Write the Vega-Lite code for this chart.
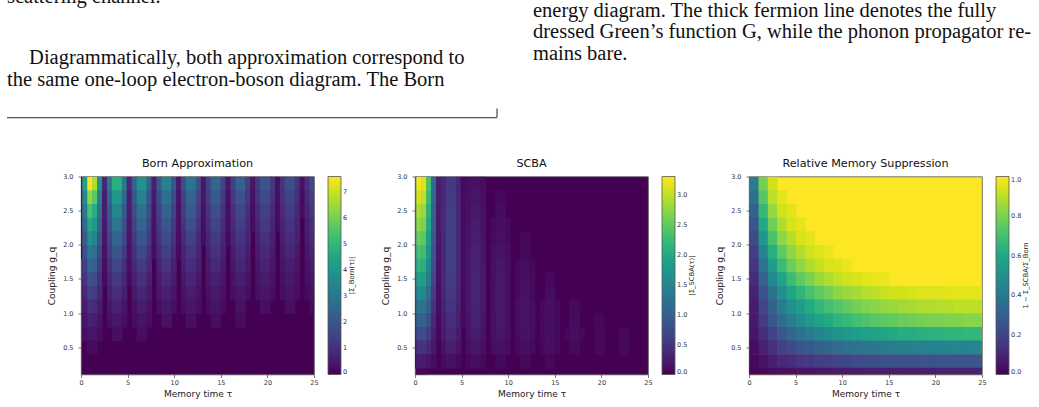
{
"$schema":"https://vega.github.io/schema/vega-lite/v6.json",
"background":"white",
"padding":0,
"bounds":"flush",
"spacing":46.5,
"config":{
 "font":"DejaVu Sans",
 "view":{"stroke":"#555","strokeWidth":0.8},
 "axis":{"grid":false,"domain":false,"ticks":true,"tickSize":3,"tickColor":"#444","tickWidth":0.7,"labelFontSize":6.5,"labelColor":"#333","labelFont":"DejaVu Sans","titleFontSize":9,"titleFontWeight":"normal","titleColor":"#222","titleFont":"DejaVu Sans","labelFlush":false},
 "axisX":{"labelPadding":1.5,"titlePadding":4},
 "axisY":{"labelPadding":5,"titlePadding":6},
 "title":{"fontSize":11.2,"fontWeight":"normal","font":"DejaVu Sans","color":"#111","offset":4},
 "legend":{"padding":0,"offset":14,"gradientLength":198,"gradientThickness":13,"gradientStrokeColor":"#555","gradientStrokeWidth":0.8,"labelFontSize":6.5,"labelColor":"#333","labelOffset":4,"labelFont":"DejaVu Sans","titleFontSize":6.8,"titleFontWeight":"normal","titleColor":"#222","titleFont":"DejaVu Sans","titleOrient":"right","titleAnchor":"middle","titleBaseline":"top","titlePadding":2}
},
"datasets":{
"text":[
{"col":0,"line":-0.63,"s":"scattering channel."},
{"col":0.042,"line":2.23,"s":"Diagrammatically, both approximation correspond to"},
{"col":0,"line":3.23,"s":"the same one-loop electron-boson diagram.  The Born"},
{"col":1,"line":0,"s":"energy diagram.  The thick fermion line denotes the fully"},
{"col":1,"line":1,"s":"dressed Green’s function G, while the phonon propagator re-"},
{"col":1,"line":2,"s":"mains bare."}
],
"rule":[
{"x0":0,"x1":0.9316,"y0":4.7,"y1":4.7},
{"x0":0.9316,"x1":0.9316,"y0":4.28,"y1":4.7}
],
"born":[
{"t":-0.15,"g":2.9,"v":0.5},{"t":0.38,"g":2.9,"v":4.3},{"t":0.91,"g":2.9,"v":7.5},{"t":1.44,"g":2.9,"v":6.7},{"t":1.97,"g":2.9,"v":3.8},{"t":2.5,"g":2.9,"v":0.8},{"t":3.03,"g":2.9,"v":3.0},{"t":3.56,"g":2.9,"v":4.8},{"t":4.09,"g":2.9,"v":4.8},{"t":4.62,"g":2.9,"v":3.0},{"t":5.15,"g":2.9,"v":0.8},{"t":5.68,"g":2.9,"v":2.4},{"t":6.21,"g":2.9,"v":3.9},{"t":6.74,"g":2.9,"v":3.9},{"t":7.27,"g":2.9,"v":2.4},{"t":7.8,"g":2.9,"v":0.6},{"t":8.33,"g":2.9,"v":2.0},{"t":8.86,"g":2.9,"v":3.4},{"t":9.39,"g":2.9,"v":3.4},{"t":9.92,"g":2.9,"v":2.0},{"t":10.45,"g":2.9,"v":0.5},{"t":10.98,"g":2.9,"v":1.8},{"t":11.51,"g":2.9,"v":2.9},{"t":12.04,"g":2.9,"v":2.9},{"t":12.57,"g":2.9,"v":1.8},{"t":13.1,"g":2.9,"v":0.4},{"t":13.63,"g":2.9,"v":1.5},{"t":14.16,"g":2.9,"v":2.5},{"t":14.69,"g":2.9,"v":2.5},{"t":15.22,"g":2.9,"v":1.5},{"t":15.75,"g":2.9,"v":0.4},{"t":16.28,"g":2.9,"v":1.4},{"t":16.81,"g":2.9,"v":2.3},{"t":17.34,"g":2.9,"v":2.3},{"t":17.87,"g":2.9,"v":1.4},{"t":18.4,"g":2.9,"v":0.4},{"t":18.93,"g":2.9,"v":1.2},{"t":19.46,"g":2.9,"v":2.0},{"t":19.99,"g":2.9,"v":2.0},{"t":20.52,"g":2.9,"v":1.2},{"t":21.05,"g":2.9,"v":0.3},{"t":21.58,"g":2.9,"v":1.1},{"t":22.11,"g":2.9,"v":1.8},{"t":22.64,"g":2.9,"v":1.8},{"t":23.17,"g":2.9,"v":1.1},{"t":23.7,"g":2.9,"v":0.3},{"t":24.23,"g":2.9,"v":1.0},{"t":24.76,"g":2.9,"v":1.7},
{"t":-0.15,"g":2.7,"v":0.4},{"t":0.38,"g":2.7,"v":3.6},{"t":0.91,"g":2.7,"v":6.3},{"t":1.44,"g":2.7,"v":5.7},{"t":1.97,"g":2.7,"v":3.2},{"t":2.5,"g":2.7,"v":0.6},{"t":3.03,"g":2.7,"v":2.5},{"t":3.56,"g":2.7,"v":4.1},{"t":4.09,"g":2.7,"v":4.1},{"t":4.62,"g":2.7,"v":2.5},{"t":5.15,"g":2.7,"v":0.6},{"t":5.68,"g":2.7,"v":2.0},{"t":6.21,"g":2.7,"v":3.3},{"t":6.74,"g":2.7,"v":3.3},{"t":7.27,"g":2.7,"v":2.0},{"t":7.8,"g":2.7,"v":0.5},{"t":8.33,"g":2.7,"v":1.7},{"t":8.86,"g":2.7,"v":2.8},{"t":9.39,"g":2.7,"v":2.8},{"t":9.92,"g":2.7,"v":1.7},{"t":10.45,"g":2.7,"v":0.4},{"t":10.98,"g":2.7,"v":1.5},{"t":11.51,"g":2.7,"v":2.4},{"t":12.04,"g":2.7,"v":2.4},{"t":12.57,"g":2.7,"v":1.5},{"t":13.1,"g":2.7,"v":0.4},{"t":13.63,"g":2.7,"v":1.3},{"t":14.16,"g":2.7,"v":2.1},{"t":14.69,"g":2.7,"v":2.1},{"t":15.22,"g":2.7,"v":1.3},{"t":15.75,"g":2.7,"v":0.3},{"t":16.28,"g":2.7,"v":1.2},{"t":16.81,"g":2.7,"v":1.9},{"t":17.34,"g":2.7,"v":1.9},{"t":17.87,"g":2.7,"v":1.2},{"t":18.4,"g":2.7,"v":0.3},{"t":18.93,"g":2.7,"v":1.1},{"t":19.46,"g":2.7,"v":1.7},{"t":19.99,"g":2.7,"v":1.7},{"t":20.52,"g":2.7,"v":1.1},{"t":21.05,"g":2.7,"v":0.3},{"t":21.58,"g":2.7,"v":1.0},{"t":22.11,"g":2.7,"v":1.5},{"t":22.64,"g":2.7,"v":1.5},{"t":23.17,"g":2.7,"v":1.0},{"t":23.7,"g":2.7,"v":0.2},{"t":24.23,"g":2.7,"v":0.9},{"t":24.76,"g":2.7,"v":1.4},
{"t":-0.15,"g":2.5,"v":0.35},{"t":0.38,"g":2.5,"v":3.1},{"t":0.91,"g":2.5,"v":5.4},{"t":1.44,"g":2.5,"v":4.8},{"t":1.97,"g":2.5,"v":2.8},{"t":2.5,"g":2.5,"v":0.55},{"t":3.03,"g":2.5,"v":2.1},{"t":3.56,"g":2.5,"v":3.45},{"t":4.09,"g":2.5,"v":3.45},{"t":4.62,"g":2.5,"v":2.1},{"t":5.15,"g":2.5,"v":0.55},{"t":5.68,"g":2.5,"v":1.7},{"t":6.21,"g":2.5,"v":2.8},{"t":6.74,"g":2.5,"v":2.8},{"t":7.27,"g":2.5,"v":1.7},{"t":7.8,"g":2.5,"v":0.4},{"t":8.33,"g":2.5,"v":1.45},{"t":8.86,"g":2.5,"v":2.4},{"t":9.39,"g":2.5,"v":2.4},{"t":9.92,"g":2.5,"v":1.45},{"t":10.45,"g":2.5,"v":0.35},{"t":10.98,"g":2.5,"v":1.3},{"t":11.51,"g":2.5,"v":2.1},{"t":12.04,"g":2.5,"v":2.1},{"t":12.57,"g":2.5,"v":1.3},{"t":13.1,"g":2.5,"v":0.32},{"t":13.63,"g":2.5,"v":1.1},{"t":14.16,"g":2.5,"v":1.8},{"t":14.69,"g":2.5,"v":1.8},{"t":15.22,"g":2.5,"v":1.1},{"t":15.75,"g":2.5,"v":0.28},{"t":16.28,"g":2.5,"v":1.0},{"t":16.81,"g":2.5,"v":1.6},{"t":17.34,"g":2.5,"v":1.6},{"t":17.87,"g":2.5,"v":1.0},{"t":18.4,"g":2.5,"v":0.26},{"t":18.93,"g":2.5,"v":0.9},{"t":19.46,"g":2.5,"v":1.45},{"t":19.99,"g":2.5,"v":1.45},{"t":20.52,"g":2.5,"v":0.9},{"t":21.05,"g":2.5,"v":0.23},{"t":21.58,"g":2.5,"v":0.83},{"t":22.11,"g":2.5,"v":1.3},{"t":22.64,"g":2.5,"v":1.3},{"t":23.17,"g":2.5,"v":0.83},{"t":23.7,"g":2.5,"v":0.21},{"t":24.23,"g":2.5,"v":0.74},{"t":24.76,"g":2.5,"v":1.2},
{"t":-0.15,"g":2.3,"v":0.3},{"t":0.38,"g":2.3,"v":2.65},{"t":0.91,"g":2.3,"v":4.6},{"t":1.44,"g":2.3,"v":4.1},{"t":1.97,"g":2.3,"v":2.4},{"t":2.5,"g":2.3,"v":0.47},{"t":3.03,"g":2.3,"v":1.8},{"t":3.56,"g":2.3,"v":2.95},{"t":4.09,"g":2.3,"v":2.95},{"t":4.62,"g":2.3,"v":1.8},{"t":5.15,"g":2.3,"v":0.47},{"t":5.68,"g":2.3,"v":1.5},{"t":6.21,"g":2.3,"v":2.4},{"t":6.74,"g":2.3,"v":2.4},{"t":7.27,"g":2.3,"v":1.5},{"t":7.8,"g":2.3,"v":0.35},{"t":8.33,"g":2.3,"v":1.25},{"t":8.86,"g":2.3,"v":2.05},{"t":9.39,"g":2.3,"v":2.05},{"t":9.92,"g":2.3,"v":1.25},{"t":10.45,"g":2.3,"v":0.3},{"t":10.98,"g":2.3,"v":1.1},{"t":11.51,"g":2.3,"v":1.77},{"t":12.04,"g":2.3,"v":1.77},{"t":12.57,"g":2.3,"v":1.1},{"t":13.1,"g":2.3,"v":0.28},{"t":13.63,"g":2.3,"v":0.94},{"t":14.16,"g":2.3,"v":1.53},{"t":14.69,"g":2.3,"v":1.53},{"t":15.22,"g":2.3,"v":0.94},{"t":15.75,"g":2.3,"v":0.24},{"t":16.28,"g":2.3,"v":0.86},{"t":16.81,"g":2.3,"v":1.39},{"t":17.34,"g":2.3,"v":1.39},{"t":17.87,"g":2.3,"v":0.86},{"t":18.4,"g":2.3,"v":0.22},{"t":18.93,"g":2.3,"v":0.77},{"t":19.46,"g":2.3,"v":1.24},{"t":19.99,"g":2.3,"v":1.24},{"t":20.52,"g":2.3,"v":0.77},{"t":21.05,"g":2.3,"v":0.2},{"t":21.58,"g":2.3,"v":0.71},{"t":22.11,"g":2.3,"v":1.12},{"t":22.64,"g":2.3,"v":1.12},{"t":23.17,"g":2.3,"v":0.71},{"t":24.23,"g":2.3,"v":0.63},{"t":24.76,"g":2.3,"v":1.02},
{"t":-0.15,"g":2.1,"v":0.25},{"t":0.38,"g":2.1,"v":2.2},{"t":0.91,"g":2.1,"v":3.8},{"t":1.44,"g":2.1,"v":3.4},{"t":1.97,"g":2.1,"v":1.96},{"t":2.5,"g":2.1,"v":0.39},{"t":3.03,"g":2.1,"v":1.52},{"t":3.56,"g":2.1,"v":2.45},{"t":4.09,"g":2.1,"v":2.45},{"t":4.62,"g":2.1,"v":1.52},{"t":5.15,"g":2.1,"v":0.39},{"t":5.68,"g":2.1,"v":1.23},{"t":6.21,"g":2.1,"v":2.0},{"t":6.74,"g":2.1,"v":2.0},{"t":7.27,"g":2.1,"v":1.23},{"t":7.8,"g":2.1,"v":0.29},{"t":8.33,"g":2.1,"v":1.03},{"t":8.86,"g":2.1,"v":1.7},{"t":9.39,"g":2.1,"v":1.7},{"t":9.92,"g":2.1,"v":1.03},{"t":10.45,"g":2.1,"v":0.25},{"t":10.98,"g":2.1,"v":0.9},{"t":11.51,"g":2.1,"v":1.47},{"t":12.04,"g":2.1,"v":1.47},{"t":12.57,"g":2.1,"v":0.9},{"t":13.1,"g":2.1,"v":0.23},{"t":13.63,"g":2.1,"v":0.78},{"t":14.16,"g":2.1,"v":1.27},{"t":14.69,"g":2.1,"v":1.27},{"t":15.22,"g":2.1,"v":0.78},{"t":15.75,"g":2.1,"v":0.2},{"t":16.28,"g":2.1,"v":0.71},{"t":16.81,"g":2.1,"v":1.15},{"t":17.34,"g":2.1,"v":1.15},{"t":17.87,"g":2.1,"v":0.71},{"t":18.93,"g":2.1,"v":0.64},{"t":19.46,"g":2.1,"v":1.03},{"t":19.99,"g":2.1,"v":1.03},{"t":20.52,"g":2.1,"v":0.64},{"t":21.58,"g":2.1,"v":0.59},{"t":22.11,"g":2.1,"v":0.93},{"t":22.64,"g":2.1,"v":0.93},{"t":23.17,"g":2.1,"v":0.59},{"t":24.23,"g":2.1,"v":0.52},{"t":24.76,"g":2.1,"v":0.85},
{"t":-0.15,"g":1.9,"v":0.2},{"t":0.38,"g":1.9,"v":1.8},{"t":0.91,"g":1.9,"v":3.1},{"t":1.44,"g":1.9,"v":2.8},{"t":1.97,"g":1.9,"v":1.6},{"t":2.5,"g":1.9,"v":0.32},{"t":3.03,"g":1.9,"v":1.24},{"t":3.56,"g":1.9,"v":2.0},{"t":4.09,"g":1.9,"v":2.0},{"t":4.62,"g":1.9,"v":1.24},{"t":5.15,"g":1.9,"v":0.32},{"t":5.68,"g":1.9,"v":1.0},{"t":6.21,"g":1.9,"v":1.64},{"t":6.74,"g":1.9,"v":1.64},{"t":7.27,"g":1.9,"v":1.0},{"t":7.8,"g":1.9,"v":0.24},{"t":8.33,"g":1.9,"v":0.84},{"t":8.86,"g":1.9,"v":1.4},{"t":9.39,"g":1.9,"v":1.4},{"t":9.92,"g":1.9,"v":0.84},{"t":10.45,"g":1.9,"v":0.2},{"t":10.98,"g":1.9,"v":0.74},{"t":11.51,"g":1.9,"v":1.2},{"t":12.04,"g":1.9,"v":1.2},{"t":12.57,"g":1.9,"v":0.74},{"t":13.63,"g":1.9,"v":0.64},{"t":14.16,"g":1.9,"v":1.04},{"t":14.69,"g":1.9,"v":1.04},{"t":15.22,"g":1.9,"v":0.64},{"t":16.28,"g":1.9,"v":0.58},{"t":16.81,"g":1.9,"v":0.94},{"t":17.34,"g":1.9,"v":0.94},{"t":17.87,"g":1.9,"v":0.58},{"t":18.93,"g":1.9,"v":0.52},{"t":19.46,"g":1.9,"v":0.84},{"t":19.99,"g":1.9,"v":0.84},{"t":20.52,"g":1.9,"v":0.52},{"t":21.58,"g":1.9,"v":0.48},{"t":22.11,"g":1.9,"v":0.76},{"t":22.64,"g":1.9,"v":0.76},{"t":23.17,"g":1.9,"v":0.48},{"t":24.23,"g":1.9,"v":0.43},{"t":24.76,"g":1.9,"v":0.69},
{"t":0.38,"g":1.7,"v":1.44},{"t":0.91,"g":1.7,"v":2.5},{"t":1.44,"g":1.7,"v":2.24},{"t":1.97,"g":1.7,"v":1.28},{"t":2.5,"g":1.7,"v":0.26},{"t":3.03,"g":1.7,"v":0.99},{"t":3.56,"g":1.7,"v":1.6},{"t":4.09,"g":1.7,"v":1.6},{"t":4.62,"g":1.7,"v":0.99},{"t":5.15,"g":1.7,"v":0.26},{"t":5.68,"g":1.7,"v":0.8},{"t":6.21,"g":1.7,"v":1.31},{"t":6.74,"g":1.7,"v":1.31},{"t":7.27,"g":1.7,"v":0.8},{"t":8.33,"g":1.7,"v":0.67},{"t":8.86,"g":1.7,"v":1.12},{"t":9.39,"g":1.7,"v":1.12},{"t":9.92,"g":1.7,"v":0.67},{"t":10.98,"g":1.7,"v":0.59},{"t":11.51,"g":1.7,"v":0.96},{"t":12.04,"g":1.7,"v":0.96},{"t":12.57,"g":1.7,"v":0.59},{"t":13.63,"g":1.7,"v":0.51},{"t":14.16,"g":1.7,"v":0.83},{"t":14.69,"g":1.7,"v":0.83},{"t":15.22,"g":1.7,"v":0.51},{"t":16.28,"g":1.7,"v":0.46},{"t":16.81,"g":1.7,"v":0.75},{"t":17.34,"g":1.7,"v":0.75},{"t":17.87,"g":1.7,"v":0.46},{"t":18.93,"g":1.7,"v":0.42},{"t":19.46,"g":1.7,"v":0.67},{"t":19.99,"g":1.7,"v":0.67},{"t":20.52,"g":1.7,"v":0.42},{"t":21.58,"g":1.7,"v":0.38},{"t":22.11,"g":1.7,"v":0.61},{"t":22.64,"g":1.7,"v":0.61},{"t":23.17,"g":1.7,"v":0.38},{"t":24.23,"g":1.7,"v":0.34},{"t":24.76,"g":1.7,"v":0.55},
{"t":0.38,"g":1.5,"v":1.13},{"t":0.91,"g":1.5,"v":1.95},{"t":1.44,"g":1.5,"v":1.75},{"t":1.97,"g":1.5,"v":1.0},{"t":2.5,"g":1.5,"v":0.2},{"t":3.03,"g":1.5,"v":0.78},{"t":3.56,"g":1.5,"v":1.25},{"t":4.09,"g":1.5,"v":1.25},{"t":4.62,"g":1.5,"v":0.78},{"t":5.15,"g":1.5,"v":0.2},{"t":5.68,"g":1.5,"v":0.63},{"t":6.21,"g":1.5,"v":1.03},{"t":6.74,"g":1.5,"v":1.03},{"t":7.27,"g":1.5,"v":0.63},{"t":8.33,"g":1.5,"v":0.53},{"t":8.86,"g":1.5,"v":0.88},{"t":9.39,"g":1.5,"v":0.88},{"t":9.92,"g":1.5,"v":0.53},{"t":10.98,"g":1.5,"v":0.46},{"t":11.51,"g":1.5,"v":0.75},{"t":12.04,"g":1.5,"v":0.75},{"t":12.57,"g":1.5,"v":0.46},{"t":13.63,"g":1.5,"v":0.4},{"t":14.16,"g":1.5,"v":0.65},{"t":14.69,"g":1.5,"v":0.65},{"t":15.22,"g":1.5,"v":0.4},{"t":16.28,"g":1.5,"v":0.36},{"t":16.81,"g":1.5,"v":0.59},{"t":17.34,"g":1.5,"v":0.59},{"t":17.87,"g":1.5,"v":0.36},{"t":18.93,"g":1.5,"v":0.33},{"t":19.46,"g":1.5,"v":0.53},{"t":19.99,"g":1.5,"v":0.53},{"t":20.52,"g":1.5,"v":0.33},{"t":21.58,"g":1.5,"v":0.3},{"t":22.11,"g":1.5,"v":0.48},{"t":22.64,"g":1.5,"v":0.48},{"t":23.17,"g":1.5,"v":0.3},{"t":24.23,"g":1.5,"v":0.27},{"t":24.76,"g":1.5,"v":0.43},
{"t":0.38,"g":1.3,"v":0.86},{"t":0.91,"g":1.3,"v":1.48},{"t":1.44,"g":1.3,"v":1.33},{"t":1.97,"g":1.3,"v":0.76},{"t":3.03,"g":1.3,"v":0.59},{"t":3.56,"g":1.3,"v":0.95},{"t":4.09,"g":1.3,"v":0.95},{"t":4.62,"g":1.3,"v":0.59},{"t":5.68,"g":1.3,"v":0.48},{"t":6.21,"g":1.3,"v":0.78},{"t":6.74,"g":1.3,"v":0.78},{"t":7.27,"g":1.3,"v":0.48},{"t":8.33,"g":1.3,"v":0.4},{"t":8.86,"g":1.3,"v":0.67},{"t":9.39,"g":1.3,"v":0.67},{"t":9.92,"g":1.3,"v":0.4},{"t":10.98,"g":1.3,"v":0.35},{"t":11.51,"g":1.3,"v":0.57},{"t":12.04,"g":1.3,"v":0.57},{"t":12.57,"g":1.3,"v":0.35},{"t":13.63,"g":1.3,"v":0.3},{"t":14.16,"g":1.3,"v":0.49},{"t":14.69,"g":1.3,"v":0.49},{"t":15.22,"g":1.3,"v":0.3},{"t":16.28,"g":1.3,"v":0.28},{"t":16.81,"g":1.3,"v":0.45},{"t":17.34,"g":1.3,"v":0.45},{"t":17.87,"g":1.3,"v":0.28},{"t":18.93,"g":1.3,"v":0.25},{"t":19.46,"g":1.3,"v":0.4},{"t":19.99,"g":1.3,"v":0.4},{"t":20.52,"g":1.3,"v":0.25},{"t":21.58,"g":1.3,"v":0.23},{"t":22.11,"g":1.3,"v":0.36},{"t":22.64,"g":1.3,"v":0.36},{"t":23.17,"g":1.3,"v":0.23},{"t":24.23,"g":1.3,"v":0.2},{"t":24.76,"g":1.3,"v":0.33},
{"t":0.38,"g":1.1,"v":0.61},{"t":0.91,"g":1.1,"v":1.05},{"t":1.44,"g":1.1,"v":0.95},{"t":1.97,"g":1.1,"v":0.54},{"t":3.03,"g":1.1,"v":0.42},{"t":3.56,"g":1.1,"v":0.68},{"t":4.09,"g":1.1,"v":0.68},{"t":4.62,"g":1.1,"v":0.42},{"t":5.68,"g":1.1,"v":0.34},{"t":6.21,"g":1.1,"v":0.55},{"t":6.74,"g":1.1,"v":0.55},{"t":7.27,"g":1.1,"v":0.34},{"t":8.33,"g":1.1,"v":0.28},{"t":8.86,"g":1.1,"v":0.47},{"t":9.39,"g":1.1,"v":0.47},{"t":9.92,"g":1.1,"v":0.28},{"t":10.98,"g":1.1,"v":0.25},{"t":11.51,"g":1.1,"v":0.41},{"t":12.04,"g":1.1,"v":0.41},{"t":12.57,"g":1.1,"v":0.25},{"t":13.63,"g":1.1,"v":0.22},{"t":14.16,"g":1.1,"v":0.35},{"t":14.69,"g":1.1,"v":0.35},{"t":15.22,"g":1.1,"v":0.22},{"t":16.81,"g":1.1,"v":0.32},{"t":17.34,"g":1.1,"v":0.32},{"t":19.46,"g":1.1,"v":0.28},{"t":19.99,"g":1.1,"v":0.28},{"t":22.11,"g":1.1,"v":0.26},{"t":22.64,"g":1.1,"v":0.26},{"t":24.76,"g":1.1,"v":0.23},
{"t":0.38,"g":0.9,"v":0.41},{"t":0.91,"g":0.9,"v":0.7},{"t":1.44,"g":0.9,"v":0.63},{"t":1.97,"g":0.9,"v":0.36},{"t":3.03,"g":0.9,"v":0.28},{"t":3.56,"g":0.9,"v":0.45},{"t":4.09,"g":0.9,"v":0.45},{"t":4.62,"g":0.9,"v":0.28},{"t":5.68,"g":0.9,"v":0.23},{"t":6.21,"g":0.9,"v":0.37},{"t":6.74,"g":0.9,"v":0.37},{"t":7.27,"g":0.9,"v":0.23},{"t":8.86,"g":0.9,"v":0.32},{"t":9.39,"g":0.9,"v":0.32},{"t":11.51,"g":0.9,"v":0.27},{"t":12.04,"g":0.9,"v":0.27},{"t":14.16,"g":0.9,"v":0.23},{"t":14.69,"g":0.9,"v":0.23},{"t":16.81,"g":0.9,"v":0.21},{"t":17.34,"g":0.9,"v":0.21},
{"t":0.38,"g":0.7,"v":0.25},{"t":0.91,"g":0.7,"v":0.43},{"t":1.44,"g":0.7,"v":0.39},{"t":1.97,"g":0.7,"v":0.22},{"t":3.56,"g":0.7,"v":0.28},{"t":4.09,"g":0.7,"v":0.28},{"t":6.21,"g":0.7,"v":0.23},{"t":6.74,"g":0.7,"v":0.23},
{"t":0.91,"g":0.5,"v":0.22},{"t":1.44,"g":0.5,"v":0.2}
],
"scba":[
{"t":-0.15,"g":2.9,"v":1.24},{"t":0.38,"g":2.9,"v":3.25},{"t":0.91,"g":2.9,"v":3.15},{"t":1.44,"g":2.9,"v":2.34},{"t":1.97,"g":2.9,"v":1.17},{"t":2.5,"g":2.9,"v":0.26},{"t":3.03,"g":2.9,"v":0.33},{"t":3.56,"g":2.9,"v":0.55},{"t":4.09,"g":2.9,"v":0.55},{"t":4.62,"g":2.9,"v":0.33},{"t":5.15,"g":2.9,"v":0.08},{"t":5.68,"g":2.9,"v":0.09},{"t":6.21,"g":2.9,"v":0.15},{"t":6.74,"g":2.9,"v":0.15},{"t":7.27,"g":2.9,"v":0.09},
{"t":-0.15,"g":2.7,"v":1.18},{"t":0.38,"g":2.7,"v":3.1},{"t":0.91,"g":2.7,"v":3.0},{"t":1.44,"g":2.7,"v":2.23},{"t":1.97,"g":2.7,"v":1.12},{"t":2.5,"g":2.7,"v":0.25},{"t":3.03,"g":2.7,"v":0.35},{"t":3.56,"g":2.7,"v":0.58},{"t":4.09,"g":2.7,"v":0.58},{"t":4.62,"g":2.7,"v":0.35},{"t":5.15,"g":2.7,"v":0.09},{"t":5.68,"g":2.7,"v":0.11},{"t":6.21,"g":2.7,"v":0.18},{"t":6.74,"g":2.7,"v":0.18},{"t":7.27,"g":2.7,"v":0.11},{"t":8.86,"g":2.7,"v":0.07},{"t":9.39,"g":2.7,"v":0.07},
{"t":-0.15,"g":2.5,"v":1.1},{"t":0.38,"g":2.5,"v":2.9},{"t":0.91,"g":2.5,"v":2.81},{"t":1.44,"g":2.5,"v":2.09},{"t":1.97,"g":2.5,"v":1.04},{"t":2.5,"g":2.5,"v":0.23},{"t":3.03,"g":2.5,"v":0.36},{"t":3.56,"g":2.5,"v":0.6},{"t":4.09,"g":2.5,"v":0.6},{"t":4.62,"g":2.5,"v":0.36},{"t":5.15,"g":2.5,"v":0.09},{"t":5.68,"g":2.5,"v":0.13},{"t":6.21,"g":2.5,"v":0.21},{"t":6.74,"g":2.5,"v":0.21},{"t":7.27,"g":2.5,"v":0.13},{"t":8.86,"g":2.5,"v":0.09},{"t":9.39,"g":2.5,"v":0.09},
{"t":-0.15,"g":2.3,"v":1.05},{"t":0.38,"g":2.3,"v":2.75},{"t":0.91,"g":2.3,"v":2.67},{"t":1.44,"g":2.3,"v":1.98},{"t":1.97,"g":2.3,"v":0.99},{"t":2.5,"g":2.3,"v":0.22},{"t":3.03,"g":2.3,"v":0.37},{"t":3.56,"g":2.3,"v":0.62},{"t":4.09,"g":2.3,"v":0.62},{"t":4.62,"g":2.3,"v":0.37},{"t":5.15,"g":2.3,"v":0.09},{"t":5.68,"g":2.3,"v":0.14},{"t":6.21,"g":2.3,"v":0.24},{"t":6.74,"g":2.3,"v":0.24},{"t":7.27,"g":2.3,"v":0.14},{"t":8.33,"g":2.3,"v":0.07},{"t":8.86,"g":2.3,"v":0.11},{"t":9.39,"g":2.3,"v":0.11},{"t":9.92,"g":2.3,"v":0.07},
{"t":-0.15,"g":2.1,"v":0.97},{"t":0.38,"g":2.1,"v":2.55},{"t":0.91,"g":2.1,"v":2.47},{"t":1.44,"g":2.1,"v":1.84},{"t":1.97,"g":2.1,"v":0.92},{"t":2.5,"g":2.1,"v":0.2},{"t":3.03,"g":2.1,"v":0.37},{"t":3.56,"g":2.1,"v":0.62},{"t":4.09,"g":2.1,"v":0.62},{"t":4.62,"g":2.1,"v":0.37},{"t":5.15,"g":2.1,"v":0.09},{"t":5.68,"g":2.1,"v":0.16},{"t":6.21,"g":2.1,"v":0.27},{"t":6.74,"g":2.1,"v":0.27},{"t":7.27,"g":2.1,"v":0.16},{"t":8.33,"g":2.1,"v":0.08},{"t":8.86,"g":2.1,"v":0.13},{"t":9.39,"g":2.1,"v":0.13},{"t":9.92,"g":2.1,"v":0.08},{"t":11.51,"g":2.1,"v":0.06},{"t":12.04,"g":2.1,"v":0.06},
{"t":-0.15,"g":1.9,"v":0.89},{"t":0.38,"g":1.9,"v":2.35},{"t":0.91,"g":1.9,"v":2.28},{"t":1.44,"g":1.9,"v":1.69},{"t":1.97,"g":1.9,"v":0.85},{"t":2.5,"g":1.9,"v":0.19},{"t":3.03,"g":1.9,"v":0.37},{"t":3.56,"g":1.9,"v":0.62},{"t":4.09,"g":1.9,"v":0.62},{"t":4.62,"g":1.9,"v":0.37},{"t":5.15,"g":1.9,"v":0.09},{"t":5.68,"g":1.9,"v":0.17},{"t":6.21,"g":1.9,"v":0.29},{"t":6.74,"g":1.9,"v":0.29},{"t":7.27,"g":1.9,"v":0.17},{"t":8.33,"g":1.9,"v":0.1},{"t":8.86,"g":1.9,"v":0.16},{"t":9.39,"g":1.9,"v":0.16},{"t":9.92,"g":1.9,"v":0.1},{"t":11.51,"g":1.9,"v":0.08},{"t":12.04,"g":1.9,"v":0.08},
{"t":-0.15,"g":1.7,"v":0.82},{"t":0.38,"g":1.7,"v":2.15},{"t":0.91,"g":1.7,"v":2.09},{"t":1.44,"g":1.7,"v":1.55},{"t":1.97,"g":1.7,"v":0.77},{"t":2.5,"g":1.7,"v":0.17},{"t":3.03,"g":1.7,"v":0.36},{"t":3.56,"g":1.7,"v":0.6},{"t":4.09,"g":1.7,"v":0.6},{"t":4.62,"g":1.7,"v":0.36},{"t":5.15,"g":1.7,"v":0.09},{"t":5.68,"g":1.7,"v":0.19},{"t":6.21,"g":1.7,"v":0.31},{"t":6.74,"g":1.7,"v":0.31},{"t":7.27,"g":1.7,"v":0.19},{"t":8.33,"g":1.7,"v":0.11},{"t":8.86,"g":1.7,"v":0.18},{"t":9.39,"g":1.7,"v":0.18},{"t":9.92,"g":1.7,"v":0.11},{"t":10.98,"g":1.7,"v":0.06},{"t":11.51,"g":1.7,"v":0.1},{"t":12.04,"g":1.7,"v":0.1},{"t":12.57,"g":1.7,"v":0.06},
{"t":-0.15,"g":1.5,"v":0.72},{"t":0.38,"g":1.5,"v":1.9},{"t":0.91,"g":1.5,"v":1.84},{"t":1.44,"g":1.5,"v":1.37},{"t":1.97,"g":1.5,"v":0.68},{"t":2.5,"g":1.5,"v":0.15},{"t":3.03,"g":1.5,"v":0.35},{"t":3.56,"g":1.5,"v":0.58},{"t":4.09,"g":1.5,"v":0.58},{"t":4.62,"g":1.5,"v":0.35},{"t":5.15,"g":1.5,"v":0.09},{"t":5.68,"g":1.5,"v":0.19},{"t":6.21,"g":1.5,"v":0.32},{"t":6.74,"g":1.5,"v":0.32},{"t":7.27,"g":1.5,"v":0.19},{"t":8.33,"g":1.5,"v":0.12},{"t":8.86,"g":1.5,"v":0.2},{"t":9.39,"g":1.5,"v":0.2},{"t":9.92,"g":1.5,"v":0.12},{"t":10.98,"g":1.5,"v":0.07},{"t":11.51,"g":1.5,"v":0.12},{"t":12.04,"g":1.5,"v":0.12},{"t":12.57,"g":1.5,"v":0.07},{"t":14.16,"g":1.5,"v":0.07},{"t":14.69,"g":1.5,"v":0.07},
{"t":-0.15,"g":1.3,"v":0.61},{"t":0.38,"g":1.3,"v":1.6},{"t":0.91,"g":1.3,"v":1.55},{"t":1.44,"g":1.3,"v":1.15},{"t":1.97,"g":1.3,"v":0.58},{"t":2.5,"g":1.3,"v":0.13},{"t":3.03,"g":1.3,"v":0.33},{"t":3.56,"g":1.3,"v":0.55},{"t":4.09,"g":1.3,"v":0.55},{"t":4.62,"g":1.3,"v":0.33},{"t":5.15,"g":1.3,"v":0.08},{"t":5.68,"g":1.3,"v":0.19},{"t":6.21,"g":1.3,"v":0.32},{"t":6.74,"g":1.3,"v":0.32},{"t":7.27,"g":1.3,"v":0.19},{"t":8.33,"g":1.3,"v":0.13},{"t":8.86,"g":1.3,"v":0.22},{"t":9.39,"g":1.3,"v":0.22},{"t":9.92,"g":1.3,"v":0.13},{"t":10.98,"g":1.3,"v":0.08},{"t":11.51,"g":1.3,"v":0.14},{"t":12.04,"g":1.3,"v":0.14},{"t":12.57,"g":1.3,"v":0.08},{"t":14.16,"g":1.3,"v":0.09},{"t":14.69,"g":1.3,"v":0.09},
{"t":-0.15,"g":1.1,"v":0.51},{"t":0.38,"g":1.1,"v":1.33},{"t":0.91,"g":1.1,"v":1.29},{"t":1.44,"g":1.1,"v":0.96},{"t":1.97,"g":1.1,"v":0.48},{"t":2.5,"g":1.1,"v":0.11},{"t":3.03,"g":1.1,"v":0.3},{"t":3.56,"g":1.1,"v":0.5},{"t":4.09,"g":1.1,"v":0.5},{"t":4.62,"g":1.1,"v":0.3},{"t":5.15,"g":1.1,"v":0.08},{"t":5.68,"g":1.1,"v":0.19},{"t":6.21,"g":1.1,"v":0.31},{"t":6.74,"g":1.1,"v":0.31},{"t":7.27,"g":1.1,"v":0.19},{"t":8.33,"g":1.1,"v":0.13},{"t":8.86,"g":1.1,"v":0.22},{"t":9.39,"g":1.1,"v":0.22},{"t":9.92,"g":1.1,"v":0.13},{"t":10.98,"g":1.1,"v":0.1},{"t":11.51,"g":1.1,"v":0.16},{"t":12.04,"g":1.1,"v":0.16},{"t":12.57,"g":1.1,"v":0.1},{"t":13.63,"g":1.1,"v":0.07},{"t":14.16,"g":1.1,"v":0.11},{"t":14.69,"g":1.1,"v":0.11},{"t":15.22,"g":1.1,"v":0.07},{"t":16.81,"g":1.1,"v":0.07},{"t":17.34,"g":1.1,"v":0.07},
{"t":-0.15,"g":0.9,"v":0.4},{"t":0.38,"g":0.9,"v":1.05},{"t":0.91,"g":0.9,"v":1.02},{"t":1.44,"g":0.9,"v":0.76},{"t":1.97,"g":0.9,"v":0.38},{"t":2.5,"g":0.9,"v":0.08},{"t":3.03,"g":0.9,"v":0.26},{"t":3.56,"g":0.9,"v":0.44},{"t":4.09,"g":0.9,"v":0.44},{"t":4.62,"g":0.9,"v":0.26},{"t":5.15,"g":0.9,"v":0.07},{"t":5.68,"g":0.9,"v":0.17},{"t":6.21,"g":0.9,"v":0.29},{"t":6.74,"g":0.9,"v":0.29},{"t":7.27,"g":0.9,"v":0.17},{"t":8.33,"g":0.9,"v":0.13},{"t":8.86,"g":0.9,"v":0.21},{"t":9.39,"g":0.9,"v":0.21},{"t":9.92,"g":0.9,"v":0.13},{"t":10.98,"g":0.9,"v":0.1},{"t":11.51,"g":0.9,"v":0.16},{"t":12.04,"g":0.9,"v":0.16},{"t":12.57,"g":0.9,"v":0.1},{"t":13.63,"g":0.9,"v":0.07},{"t":14.16,"g":0.9,"v":0.12},{"t":14.69,"g":0.9,"v":0.12},{"t":15.22,"g":0.9,"v":0.07},{"t":16.81,"g":0.9,"v":0.09},{"t":17.34,"g":0.9,"v":0.09},{"t":19.46,"g":0.9,"v":0.06},{"t":19.99,"g":0.9,"v":0.06},
{"t":-0.15,"g":0.7,"v":0.3},{"t":0.38,"g":0.7,"v":0.78},{"t":0.91,"g":0.7,"v":0.76},{"t":1.44,"g":0.7,"v":0.56},{"t":1.97,"g":0.7,"v":0.28},{"t":2.5,"g":0.7,"v":0.06},{"t":3.03,"g":0.7,"v":0.22},{"t":3.56,"g":0.7,"v":0.36},{"t":4.09,"g":0.7,"v":0.36},{"t":4.62,"g":0.7,"v":0.22},{"t":5.68,"g":0.7,"v":0.15},{"t":6.21,"g":0.7,"v":0.25},{"t":6.74,"g":0.7,"v":0.25},{"t":7.27,"g":0.7,"v":0.15},{"t":8.33,"g":0.7,"v":0.11},{"t":8.86,"g":0.7,"v":0.19},{"t":9.39,"g":0.7,"v":0.19},{"t":9.92,"g":0.7,"v":0.11},{"t":10.98,"g":0.7,"v":0.09},{"t":11.51,"g":0.7,"v":0.15},{"t":12.04,"g":0.7,"v":0.15},{"t":12.57,"g":0.7,"v":0.09},{"t":13.63,"g":0.7,"v":0.07},{"t":14.16,"g":0.7,"v":0.12},{"t":14.69,"g":0.7,"v":0.12},{"t":15.22,"g":0.7,"v":0.07},{"t":16.28,"g":0.7,"v":0.06},{"t":16.81,"g":0.7,"v":0.1},{"t":17.34,"g":0.7,"v":0.1},{"t":17.87,"g":0.7,"v":0.06},{"t":19.46,"g":0.7,"v":0.08},{"t":19.99,"g":0.7,"v":0.08},{"t":22.11,"g":0.7,"v":0.06},{"t":22.64,"g":0.7,"v":0.06},
{"t":-0.15,"g":0.5,"v":0.19},{"t":0.38,"g":0.5,"v":0.5},{"t":0.91,"g":0.5,"v":0.49},{"t":1.44,"g":0.5,"v":0.36},{"t":1.97,"g":0.5,"v":0.18},{"t":3.03,"g":0.5,"v":0.16},{"t":3.56,"g":0.5,"v":0.26},{"t":4.09,"g":0.5,"v":0.26},{"t":4.62,"g":0.5,"v":0.16},{"t":5.68,"g":0.5,"v":0.11},{"t":6.21,"g":0.5,"v":0.19},{"t":6.74,"g":0.5,"v":0.19},{"t":7.27,"g":0.5,"v":0.11},{"t":8.33,"g":0.5,"v":0.09},{"t":8.86,"g":0.5,"v":0.15},{"t":9.39,"g":0.5,"v":0.15},{"t":9.92,"g":0.5,"v":0.09},{"t":10.98,"g":0.5,"v":0.07},{"t":11.51,"g":0.5,"v":0.12},{"t":12.04,"g":0.5,"v":0.12},{"t":12.57,"g":0.5,"v":0.07},{"t":13.63,"g":0.5,"v":0.06},{"t":14.16,"g":0.5,"v":0.1},{"t":14.69,"g":0.5,"v":0.1},{"t":15.22,"g":0.5,"v":0.06},{"t":16.81,"g":0.5,"v":0.08},{"t":17.34,"g":0.5,"v":0.08},{"t":19.46,"g":0.5,"v":0.07},{"t":19.99,"g":0.5,"v":0.07},{"t":22.11,"g":0.5,"v":0.06},{"t":22.64,"g":0.5,"v":0.06},
{"t":-0.15,"g":0.3,"v":0.1},{"t":0.38,"g":0.3,"v":0.25},{"t":0.91,"g":0.3,"v":0.24},{"t":1.44,"g":0.3,"v":0.18},{"t":1.97,"g":0.3,"v":0.09},{"t":3.03,"g":0.3,"v":0.08},{"t":3.56,"g":0.3,"v":0.14},{"t":4.09,"g":0.3,"v":0.14},{"t":4.62,"g":0.3,"v":0.08},{"t":5.68,"g":0.3,"v":0.06},{"t":6.21,"g":0.3,"v":0.1},{"t":6.74,"g":0.3,"v":0.1},{"t":7.27,"g":0.3,"v":0.06},{"t":8.86,"g":0.3,"v":0.08},{"t":9.39,"g":0.3,"v":0.08},{"t":11.51,"g":0.3,"v":0.07},{"t":12.04,"g":0.3,"v":0.07},{"t":14.16,"g":0.3,"v":0.06},{"t":14.69,"g":0.3,"v":0.06},
{"t":0.38,"g":0.1,"v":0.08},{"t":0.91,"g":0.1,"v":0.08}
],
"rel":[
{"t":0.5,"g":2.9,"v":0.41},{"t":1.5,"g":2.9,"v":0.79},{"t":2.5,"g":2.9,"v":0.93},
{"t":0.5,"g":2.7,"v":0.37},{"t":1.5,"g":2.7,"v":0.74},{"t":2.5,"g":2.7,"v":0.9},{"t":3.5,"g":2.7,"v":0.96},
{"t":0.5,"g":2.5,"v":0.31},{"t":1.5,"g":2.5,"v":0.67},{"t":2.5,"g":2.5,"v":0.84},{"t":3.5,"g":2.5,"v":0.93},{"t":4.5,"g":2.5,"v":0.96},
{"t":0.5,"g":2.3,"v":0.26},{"t":1.5,"g":2.3,"v":0.6},{"t":2.5,"g":2.3,"v":0.78},{"t":3.5,"g":2.3,"v":0.88},{"t":4.5,"g":2.3,"v":0.94},{"t":5.5,"g":2.3,"v":0.96},
{"t":0.5,"g":2.1,"v":0.22},{"t":1.5,"g":2.1,"v":0.53},{"t":2.5,"g":2.1,"v":0.71},{"t":3.5,"g":2.1,"v":0.83},{"t":4.5,"g":2.1,"v":0.89},{"t":5.5,"g":2.1,"v":0.94},{"t":6.5,"g":2.1,"v":0.96},
{"t":0.5,"g":1.9,"v":0.18},{"t":1.5,"g":1.9,"v":0.45},{"t":2.5,"g":1.9,"v":0.63},{"t":3.5,"g":1.9,"v":0.75},{"t":4.5,"g":1.9,"v":0.83},{"t":5.5,"g":1.9,"v":0.89},{"t":6.5,"g":1.9,"v":0.93},{"t":7.5,"g":1.9,"v":0.95},{"t":8.5,"g":1.9,"v":0.97},
{"t":0.5,"g":1.7,"v":0.15},{"t":1.5,"g":1.7,"v":0.38},{"t":2.5,"g":1.7,"v":0.55},{"t":3.5,"g":1.7,"v":0.68},{"t":4.5,"g":1.7,"v":0.77},{"t":5.5,"g":1.7,"v":0.83},{"t":6.5,"g":1.7,"v":0.88},{"t":7.5,"g":1.7,"v":0.91},{"t":8.5,"g":1.7,"v":0.94},{"t":9.5,"g":1.7,"v":0.95},{"t":10.5,"g":1.7,"v":0.97},
{"t":0.5,"g":1.5,"v":0.12},{"t":1.5,"g":1.5,"v":0.31},{"t":2.5,"g":1.5,"v":0.47},{"t":3.5,"g":1.5,"v":0.58},{"t":4.5,"g":1.5,"v":0.68},{"t":5.5,"g":1.5,"v":0.75},{"t":6.5,"g":1.5,"v":0.8},{"t":7.5,"g":1.5,"v":0.85},{"t":8.5,"g":1.5,"v":0.88},{"t":9.5,"g":1.5,"v":0.91},{"t":10.5,"g":1.5,"v":0.93},{"t":11.5,"g":1.5,"v":0.94},{"t":12.5,"g":1.5,"v":0.96},{"t":13.5,"g":1.5,"v":0.97},{"t":14.5,"g":1.5,"v":0.97},
{"t":0.5,"g":1.3,"v":0.09},{"t":1.5,"g":1.3,"v":0.25},{"t":2.5,"g":1.3,"v":0.38},{"t":3.5,"g":1.3,"v":0.49},{"t":4.5,"g":1.3,"v":0.58},{"t":5.5,"g":1.3,"v":0.65},{"t":6.5,"g":1.3,"v":0.71},{"t":7.5,"g":1.3,"v":0.75},{"t":8.5,"g":1.3,"v":0.79},{"t":9.5,"g":1.3,"v":0.83},{"t":10.5,"g":1.3,"v":0.85},{"t":11.5,"g":1.3,"v":0.87},{"t":12.5,"g":1.3,"v":0.89},{"t":13.5,"g":1.3,"v":0.9},{"t":14.5,"g":1.3,"v":0.92},{"t":15.5,"g":1.3,"v":0.93},{"t":16.5,"g":1.3,"v":0.93},{"t":17.5,"g":1.3,"v":0.94},{"t":18.5,"g":1.3,"v":0.95},{"t":19.5,"g":1.3,"v":0.95},{"t":20.5,"g":1.3,"v":0.95},{"t":21.5,"g":1.3,"v":0.96},{"t":22.5,"g":1.3,"v":0.96},{"t":23.5,"g":1.3,"v":0.96},{"t":24.5,"g":1.3,"v":0.96},
{"t":0.5,"g":1.1,"v":0.07},{"t":1.5,"g":1.1,"v":0.2},{"t":2.5,"g":1.1,"v":0.31},{"t":3.5,"g":1.1,"v":0.41},{"t":4.5,"g":1.1,"v":0.49},{"t":5.5,"g":1.1,"v":0.55},{"t":6.5,"g":1.1,"v":0.61},{"t":7.5,"g":1.1,"v":0.66},{"t":8.5,"g":1.1,"v":0.7},{"t":9.5,"g":1.1,"v":0.73},{"t":10.5,"g":1.1,"v":0.76},{"t":11.5,"g":1.1,"v":0.79},{"t":12.5,"g":1.1,"v":0.81},{"t":13.5,"g":1.1,"v":0.82},{"t":14.5,"g":1.1,"v":0.84},{"t":15.5,"g":1.1,"v":0.85},{"t":16.5,"g":1.1,"v":0.86},{"t":17.5,"g":1.1,"v":0.87},{"t":18.5,"g":1.1,"v":0.88},{"t":19.5,"g":1.1,"v":0.88},{"t":20.5,"g":1.1,"v":0.89},{"t":21.5,"g":1.1,"v":0.89},{"t":22.5,"g":1.1,"v":0.9},{"t":23.5,"g":1.1,"v":0.9},{"t":24.5,"g":1.1,"v":0.9},
{"t":0.5,"g":0.9,"v":0.06},{"t":1.5,"g":0.9,"v":0.17},{"t":2.5,"g":0.9,"v":0.27},{"t":3.5,"g":0.9,"v":0.35},{"t":4.5,"g":0.9,"v":0.42},{"t":5.5,"g":0.9,"v":0.48},{"t":6.5,"g":0.9,"v":0.53},{"t":7.5,"g":0.9,"v":0.58},{"t":8.5,"g":0.9,"v":0.61},{"t":9.5,"g":0.9,"v":0.65},{"t":10.5,"g":0.9,"v":0.67},{"t":11.5,"g":0.9,"v":0.7},{"t":12.5,"g":0.9,"v":0.72},{"t":13.5,"g":0.9,"v":0.74},{"t":14.5,"g":0.9,"v":0.75},{"t":15.5,"g":0.9,"v":0.76},{"t":16.5,"g":0.9,"v":0.77},{"t":17.5,"g":0.9,"v":0.78},{"t":18.5,"g":0.9,"v":0.79},{"t":19.5,"g":0.9,"v":0.8},{"t":20.5,"g":0.9,"v":0.8},{"t":21.5,"g":0.9,"v":0.81},{"t":22.5,"g":0.9,"v":0.81},{"t":23.5,"g":0.9,"v":0.82},{"t":24.5,"g":0.9,"v":0.82},
{"t":0.5,"g":0.7,"v":0.05},{"t":1.5,"g":0.7,"v":0.13},{"t":2.5,"g":0.7,"v":0.2},{"t":3.5,"g":0.7,"v":0.27},{"t":4.5,"g":0.7,"v":0.32},{"t":5.5,"g":0.7,"v":0.37},{"t":6.5,"g":0.7,"v":0.41},{"t":7.5,"g":0.7,"v":0.45},{"t":8.5,"g":0.7,"v":0.48},{"t":9.5,"g":0.7,"v":0.51},{"t":10.5,"g":0.7,"v":0.53},{"t":11.5,"g":0.7,"v":0.55},{"t":12.5,"g":0.7,"v":0.57},{"t":13.5,"g":0.7,"v":0.58},{"t":14.5,"g":0.7,"v":0.59},{"t":15.5,"g":0.7,"v":0.61},{"t":16.5,"g":0.7,"v":0.62},{"t":17.5,"g":0.7,"v":0.62},{"t":18.5,"g":0.7,"v":0.63},{"t":19.5,"g":0.7,"v":0.64},{"t":20.5,"g":0.7,"v":0.64},{"t":21.5,"g":0.7,"v":0.65},{"t":22.5,"g":0.7,"v":0.65},{"t":23.5,"g":0.7,"v":0.66},{"t":24.5,"g":0.7,"v":0.66},
{"t":0.5,"g":0.5,"v":0.03},{"t":1.5,"g":0.5,"v":0.09},{"t":2.5,"g":0.5,"v":0.14},{"t":3.5,"g":0.5,"v":0.19},{"t":4.5,"g":0.5,"v":0.22},{"t":5.5,"g":0.5,"v":0.26},{"t":6.5,"g":0.5,"v":0.28},{"t":7.5,"g":0.5,"v":0.31},{"t":8.5,"g":0.5,"v":0.33},{"t":9.5,"g":0.5,"v":0.35},{"t":10.5,"g":0.5,"v":0.37},{"t":11.5,"g":0.5,"v":0.38},{"t":12.5,"g":0.5,"v":0.39},{"t":13.5,"g":0.5,"v":0.4},{"t":14.5,"g":0.5,"v":0.41},{"t":15.5,"g":0.5,"v":0.42},{"t":16.5,"g":0.5,"v":0.43},{"t":17.5,"g":0.5,"v":0.43},{"t":18.5,"g":0.5,"v":0.44},{"t":19.5,"g":0.5,"v":0.44},{"t":20.5,"g":0.5,"v":0.45},{"t":21.5,"g":0.5,"v":0.45},{"t":22.5,"g":0.5,"v":0.45},{"t":23.5,"g":0.5,"v":0.45},{"t":24.5,"g":0.5,"v":0.46},
{"t":0.5,"g":0.3,"v":0.02},{"t":1.5,"g":0.3,"v":0.05},{"t":2.5,"g":0.3,"v":0.08},{"t":3.5,"g":0.3,"v":0.11},{"t":4.5,"g":0.3,"v":0.13},{"t":5.5,"g":0.3,"v":0.15},{"t":6.5,"g":0.3,"v":0.16},{"t":7.5,"g":0.3,"v":0.18},{"t":8.5,"g":0.3,"v":0.19},{"t":9.5,"g":0.3,"v":0.2},{"t":10.5,"g":0.3,"v":0.21},{"t":11.5,"g":0.3,"v":0.22},{"t":12.5,"g":0.3,"v":0.23},{"t":13.5,"g":0.3,"v":0.23},{"t":14.5,"g":0.3,"v":0.24},{"t":15.5,"g":0.3,"v":0.24},{"t":16.5,"g":0.3,"v":0.24},{"t":17.5,"g":0.3,"v":0.25},{"t":18.5,"g":0.3,"v":0.25},{"t":19.5,"g":0.3,"v":0.25},{"t":20.5,"g":0.3,"v":0.26},{"t":21.5,"g":0.3,"v":0.26},{"t":22.5,"g":0.3,"v":0.26},{"t":23.5,"g":0.3,"v":0.26},{"t":24.5,"g":0.3,"v":0.26},
{"t":0.5,"g":0.1,"v":0.01},{"t":1.5,"g":0.1,"v":0.02},{"t":2.5,"g":0.1,"v":0.03},{"t":3.5,"g":0.1,"v":0.04},{"t":4.5,"g":0.1,"v":0.04},{"t":5.5,"g":0.1,"v":0.05},{"t":6.5,"g":0.1,"v":0.05},{"t":7.5,"g":0.1,"v":0.06},{"t":8.5,"g":0.1,"v":0.06},{"t":9.5,"g":0.1,"v":0.07},{"t":10.5,"g":0.1,"v":0.07},{"t":11.5,"g":0.1,"v":0.07},{"t":12.5,"g":0.1,"v":0.08},{"t":13.5,"g":0.1,"v":0.08},{"t":14.5,"g":0.1,"v":0.08},{"t":15.5,"g":0.1,"v":0.08},{"t":16.5,"g":0.1,"v":0.08},{"t":17.5,"g":0.1,"v":0.08},{"t":18.5,"g":0.1,"v":0.08},{"t":19.5,"g":0.1,"v":0.08},{"t":20.5,"g":0.1,"v":0.09},{"t":21.5,"g":0.1,"v":0.09},{"t":22.5,"g":0.1,"v":0.09},{"t":23.5,"g":0.1,"v":0.09},{"t":24.5,"g":0.1,"v":0.09}
]
},
"vconcat":[
{
 "width":1039,"height":130,
 "view":{"stroke":null},
 "layer":[
  {"data":{"name":"text"},
   "mark":{"type":"text","align":"left","baseline":"alphabetic","font":"Liberation Serif","fontSize":20.5,"color":"#111","clip":true},
   "encoding":{
    "x":{"field":"col","type":"quantitative","scale":{"domain":[0,1],"range":[7,533],"nice":false,"zero":false},"axis":null},
    "y":{"field":"line","type":"quantitative","scale":{"domain":[0,5],"range":[16.5,124],"nice":false,"zero":false},"axis":null},
    "text":{"field":"s"}
   }},
  {"data":{"name":"rule"},
   "mark":{"type":"rule","color":"#555","strokeWidth":1.3},
   "encoding":{
    "x":{"field":"x0","type":"quantitative","scale":{"domain":[0,1],"range":[7,533],"nice":false,"zero":false},"axis":null},
    "x2":{"field":"x1"},
    "y":{"field":"y0","type":"quantitative","scale":{"domain":[0,5],"range":[16.5,124],"nice":false,"zero":false},"axis":null},
    "y2":{"field":"y1"}
   }}
 ]
},
{
 "bounds":"flush",
 "spacing":0,
 "hconcat":[
  {"width":81,"height":198,"view":{"stroke":null},"data":{"values":[]},"mark":"point","encoding":{}},
  {
   "bounds":"flush",
   "spacing":101,
   "resolve":{"scale":{"color":"independent","x":"independent","y":"independent"},"legend":{"color":"independent"}},
   "hconcat":[
    {
     "width":233,"height":198,
     "view":{"fill":"#440154","stroke":"#555","strokeWidth":0.8},
     "title":{"text":"Born Approximation"},
     "data":{"name":"born"},
     "mark":{"type":"rect","clip":true,"binSpacing":-0.6},
     "encoding":{
      "x":{"field":"t","type":"quantitative","bin":{"extent":[-0.415,25.025],"step":0.53,"nice":false},"scale":{"domain":[0,25]},"axis":{"title":"Memory time τ","values":[0,5,10,15,20,25],"format":"d"}},
      "y":{"field":"g","type":"quantitative","bin":{"extent":[0,3],"step":0.2,"nice":false},"scale":{"domain":[0.1,3]},"axis":{"title":"Coupling g_q","values":[0.5,1,1.5,2,2.5,3],"format":".1f"}},
      "color":{"field":"v","type":"quantitative","scale":{"scheme":"viridis","domain":[0,7.58]},"legend":{"type":"gradient","title":"|Σ_Born(τ)|","values":[0,1,2,3,4,5,6,7],"format":"d","encode":{"title":{"update":{"angle":{"value":-90},"align":{"value":"center"},"baseline":{"value":"top"}}}}}}
     }
    },
    {
     "width":233,"height":198,
     "view":{"fill":"#440154","stroke":"#555","strokeWidth":0.8},
     "title":{"text":"SCBA"},
     "data":{"name":"scba"},
     "mark":{"type":"rect","clip":true,"binSpacing":-0.6},
     "encoding":{
      "x":{"field":"t","type":"quantitative","bin":{"extent":[-0.415,25.025],"step":0.53,"nice":false},"scale":{"domain":[0,25]},"axis":{"title":"Memory time τ","values":[0,5,10,15,20,25],"format":"d"}},
      "y":{"field":"g","type":"quantitative","bin":{"extent":[0,3],"step":0.2,"nice":false},"scale":{"domain":[0.1,3]},"axis":{"title":"Coupling g_q","values":[0.5,1,1.5,2,2.5,3],"format":".1f"}},
      "color":{"field":"v","type":"quantitative","scale":{"scheme":"viridis","domain":[0,3.31]},"legend":{"type":"gradient","title":"|Σ_SCBA(τ)|","values":[0,0.5,1,1.5,2,2.5,3],"format":".1f","encode":{"title":{"update":{"angle":{"value":-90},"align":{"value":"center"},"baseline":{"value":"top"}}}}}}
     }
    },
    {
     "width":233,"height":198,
     "view":{"fill":"#fde725","stroke":"#555","strokeWidth":0.8},
     "title":{"text":"Relative Memory Suppression"},
     "data":{"name":"rel"},
     "mark":{"type":"rect","clip":true,"binSpacing":-0.6},
     "encoding":{
      "x":{"field":"t","type":"quantitative","bin":{"extent":[0,25],"step":1,"nice":false},"scale":{"domain":[0,25]},"axis":{"title":"Memory time τ","values":[0,5,10,15,20,25],"format":"d"}},
      "y":{"field":"g","type":"quantitative","bin":{"extent":[0,3],"step":0.2,"nice":false},"scale":{"domain":[0.1,3]},"axis":{"title":"Coupling g_q","values":[0.5,1,1.5,2,2.5,3],"format":".1f"}},
      "color":{"field":"v","type":"quantitative","scale":{"scheme":"viridis","domain":[0,1]},"legend":{"type":"gradient","title":"1 − Σ_SCBA/Σ_Born","values":[0,0.2,0.4,0.6,0.8,1],"format":".1f","encode":{"title":{"update":{"angle":{"value":-90},"align":{"value":"center"},"baseline":{"value":"top"}}}}}}
     }
    }
   ]
  }
 ]
}
]
}
